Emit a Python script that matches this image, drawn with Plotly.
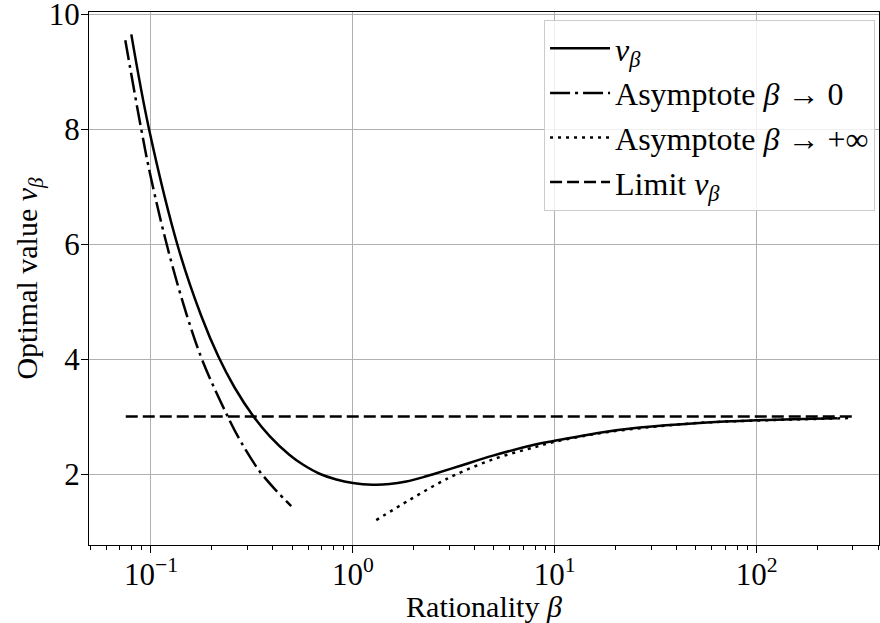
import plotly.graph_objects as go

# v_beta curve
beta_v = [0.0799, 0.0977, 0.137, 0.1775, 0.216, 0.259, 0.322, 0.387, 0.486, 0.565, 0.684,
          0.828, 1.0, 1.25, 1.52, 1.84, 2.31, 2.5, 3.38, 4.94, 8.1, 10, 16.7, 26.3, 52, 100, 250]
v_vals = [9.65, 8.01, 5.92, 4.75, 4.04, 3.51, 3.0, 2.66, 2.33, 2.165, 2.005,
          1.905, 1.845, 1.815, 1.825, 1.87, 1.96, 1.995, 2.14, 2.32, 2.517, 2.58, 2.72, 2.81, 2.89, 2.935, 2.97]

# Asymptote beta -> 0
beta_a0 = [0.0746, 0.0895, 0.1, 0.122, 0.15, 0.181, 0.24, 0.28, 0.345, 0.42, 0.495]
a0_vals = [9.55, 8.0, 7.15, 5.88, 4.78, 3.95, 3.0, 2.55, 2.05, 1.70, 1.443]

# Asymptote beta -> +inf
beta_ainf = [1.306, 1.91, 2.69, 3.19, 4.94, 8.1, 10, 16.7, 29.5, 52, 100, 300]
ainf_vals = [1.199, 1.55, 1.85, 1.98, 2.256, 2.475, 2.56, 2.71, 2.815, 2.89, 2.93, 2.975]

# Limit
beta_lim = [0.075, 300]
lim_vals = [3.0, 3.0]

x_tickvals = [0.1, 1, 10, 100]
x_ticktext = ["10<sup>\u22121</sup>", "10<sup>0</sup>", "10<sup>1</sup>", "10<sup>2</sup>"]
y_tickvals = [2, 4, 6, 8, 10]

minor_vals = [m * 10 ** e for e in (-2, -1, 0, 1, 2) for m in range(2, 10)]

FONT = "Liberation Serif"
FS = 30
FT = 31
vb = "<i>v</i><sub><i>\u03b2</i></sub>"

fig = go.Figure()
fig.add_trace(go.Scatter(x=beta_v, y=v_vals, mode="lines", name=vb,
                         line=dict(color="black", width=2.5, shape="spline", smoothing=1.0)))
fig.add_trace(go.Scatter(x=beta_a0, y=a0_vals, mode="lines", name="Asymptote <i>\u03b2</i> \u2192 0",
                         line=dict(color="black", width=2.5, shape="spline", smoothing=1.0,
                                   dash="20px,5px,3px,5px")))
fig.add_trace(go.Scatter(x=beta_ainf, y=ainf_vals, mode="lines", name="Asymptote <i>\u03b2</i> \u2192 +\u221e",
                         line=dict(color="black", width=2.5, shape="spline", smoothing=1.0,
                                   dash="3px,5px")))
fig.add_trace(go.Scatter(x=beta_lim, y=lim_vals, mode="lines", name="Limit " + vb,
                         line=dict(color="black", width=2.5, dash="12px,5px")))

axis_common = dict(showline=True, linecolor="black", linewidth=1.3, mirror=True,
                   ticks="outside", ticklen=7, tickwidth=1.2, tickcolor="black",
                   showgrid=True, gridcolor="#b0b0b0", gridwidth=1, zeroline=False,
                   automargin=False, ticklabeloverflow="allow",
                   tickfont=dict(family=FONT, size=FT, color="black"))

fig.update_xaxes(type="log", range=[-1.307, 2.606], tickvals=x_tickvals, ticktext=x_ticktext,
                 ticklabelstandoff=-5,
                 minor=dict(tickvals=minor_vals, ticks="outside", ticklen=4, tickwidth=1,
                            tickcolor="black", showgrid=False),
                 title=dict(text="Rationality <i>\u03b2</i>", font=dict(family=FONT, size=FS, color="black"),
                            standoff=2),
                 **axis_common)
fig.update_yaxes(range=[0.765, 10.04], tickvals=y_tickvals, ticklabelstandoff=-5,
                 title=dict(text="Optimal value " + vb, font=dict(family=FONT, size=FS, color="black"),
                            standoff=2),
                 **axis_common)

fig.update_layout(
    width=880, height=623,
    margin=dict(l=89, r=1, t=12, b=78),
    plot_bgcolor="white", paper_bgcolor="white",
    font=dict(family=FONT, size=FS, color="black"),
    legend=dict(x=0.995, xanchor="right", y=0.985, yanchor="top",
                bgcolor="rgba(255,255,255,0.8)", bordercolor="#cccccc", borderwidth=1,
                itemwidth=60,
                font=dict(family=FONT, size=32, color="black"), tracegroupgap=0),
    showlegend=True,
)

fig.write_html("out.html", config={"displayModeBar": False},
               post_script="document.body.style.margin='0';document.body.style.overflow='hidden';")
